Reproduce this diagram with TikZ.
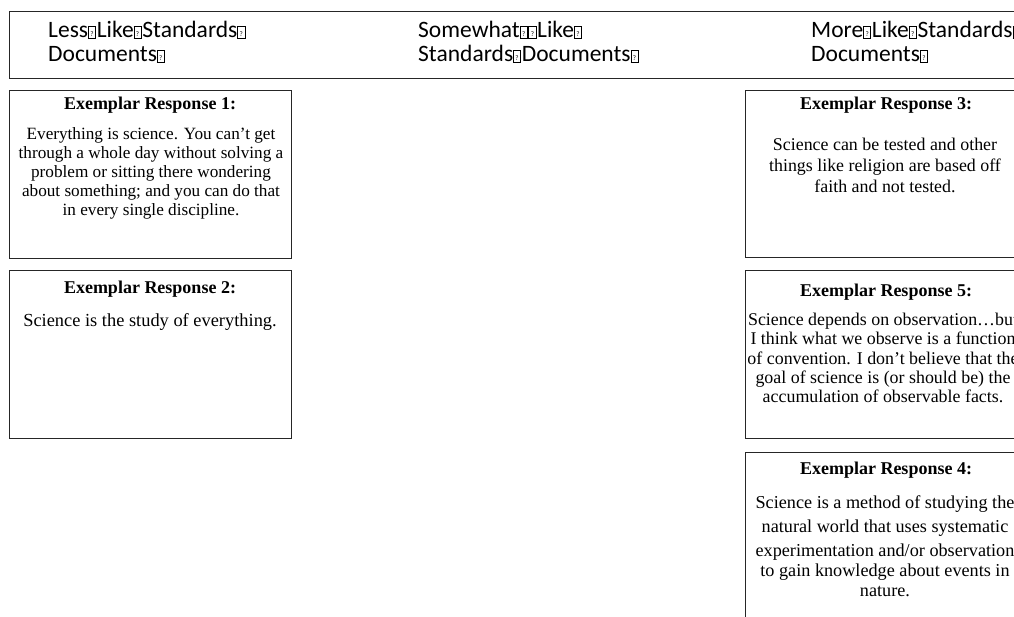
\documentclass[tikz,border=0pt]{standalone}
\usepackage{fontspec}
\setmainfont{Liberation Serif}
\newfontfamily\headfont{Carlito}
% placeholder glyph for the unrenderable separators in the headings
\newcommand\gp{\makebox[0.37em][l]{\setlength\fboxsep{0pt}\setlength\fboxrule{0.55pt}%
  \framebox[0.33em][c]{\rule[-0.02em]{0pt}{0.52em}\raisebox{0.06em}{\fontsize{7}{7}\selectfont ?}}}}
\begin{document}
\begin{tikzpicture}[x=1pt,y=-1pt,
  card/.style={draw=black!85, line width=0.8pt, anchor=north west, inner sep=0pt},
  cardtitle/.style={anchor=base, font=\fontsize{18}{21}\selectfont\bfseries, inner sep=0pt},
  cardbody/.style={anchor=north, align=center, inner sep=0pt, font=\fontsize{17.2}{19}\selectfont},
  head/.style={anchor=base west, align=left, inner sep=0pt, font=\headfont\fontsize{23.5}{24}\selectfont}]
\useasboundingbox (0,0) rectangle (1014,617);
\clip (0,0) rectangle (1014,617);

% heading band
\node[draw=black!85, line width=0.8pt, anchor=north west, minimum width=1040pt, minimum height=67pt, inner sep=0pt] (band) at (9,11) {};
\node[head] (less) at (48,62) {Less\gp Like\gp Standards\gp\\Documents\gp};
\node[head] (some) at (418,62) {Somewhat\gp\gp Like\gp\\Standards\gp Documents\gp};
\node[head] (more) at (811,62) {More\gp Like\gp Standards\gp\\Documents\gp};

% left column
\node[card, minimum width=282pt, minimum height=168pt] (r1) at (9,90) {};
\node[cardtitle] (t1) at (150,110) {Exemplar Response 1:};
\node[cardbody] (b1) at (151,127) {Everything is science. You can’t get\\through a whole day without solving a\\problem or sitting there wondering\\about something; and you can do that\\in every single discipline.};

\node[card, minimum width=282pt, minimum height=168pt] (r2) at (9,270) {};
\node[cardtitle] (t2) at (150,294) {Exemplar Response 2:};
\node[cardbody, font=\fontsize{18.4}{21}\selectfont] (b2) at (150,313) {Science is the study of everything.};

% right column
\node[card, minimum width=281pt, minimum height=167pt] (r3) at (745,90) {};
\node[cardtitle] (t3) at (886,110) {Exemplar Response 3:};
\node[cardbody, font=\fontsize{17.9}{21}\selectfont] (b3) at (885,138) {Science can be tested and other\\things like religion are based off\\faith and not tested.};

\node[card, minimum width=281pt, minimum height=168pt] (r5) at (745,270) {};
\node[cardtitle] (t5) at (886,297) {Exemplar Response 5:};
\node[cardbody, font=\fontsize{17.9}{19.3}\selectfont] (b5) at (883,313) {Science depends on observation…but\\I think what we observe is a function\\of convention. I don’t believe that the\\goal of science is (or should be) the\\accumulation of observable facts.};

\node[card, minimum width=281pt, minimum height=200pt] (r4) at (745,452) {};
\node[cardtitle] (t4) at (886,474) {Exemplar Response 4:};
\node[cardbody, font=\fontsize{18.2}{20}\selectfont] (b4) at (885,495) {Science is a method of studying the\\[4pt]natural world that uses systematic\\[4pt]experimentation and/or observation\\to gain knowledge about events in\\nature.};
\end{tikzpicture}
\end{document}
